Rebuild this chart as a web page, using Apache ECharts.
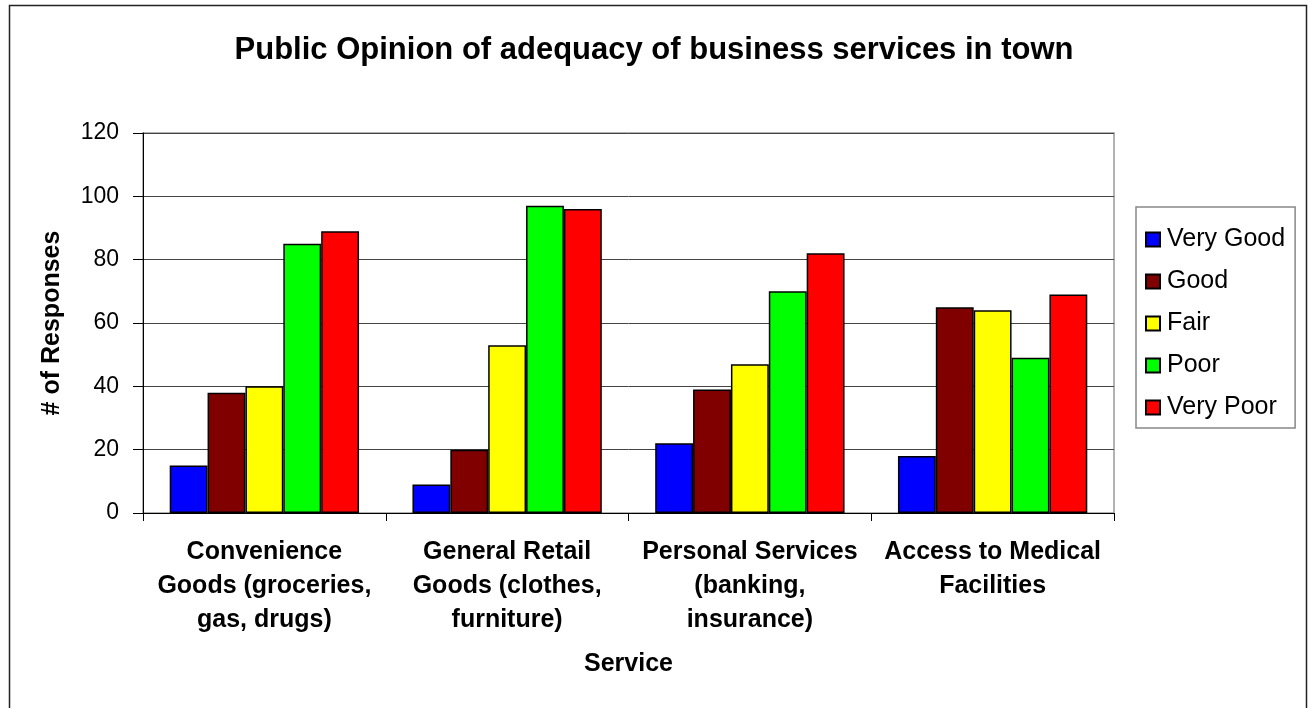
<!DOCTYPE html>
<html>
<head>
<meta charset="utf-8">
<title>Public Opinion of adequacy of business services in town</title>
<script src="https://cdn.jsdelivr.net/npm/echarts@6/dist/echarts.min.js"></script>
<style>
  html, body { margin: 0; padding: 0; background: #fff; }
  #charts { width: 1308px; height: 708px; }
</style>
</head>
<body>
<div id="charts"></div>
<script>
const categories = [
  "Convenience\nGoods (groceries,\ngas, drugs)",
  "General Retail\nGoods (clothes,\nfurniture)",
  "Personal Services\n(banking,\ninsurance)",
  "Access to Medical\nFacilities"
];
const seriesNames = ["Very Good", "Good", "Fair", "Poor", "Very Poor"];
const veryGood = [15, 9, 22, 18];
const good = [38, 20, 39, 65];
const fair = [40, 53, 47, 64];
const poor = [85, 97, 70, 49];
const veryPoor = [89, 96, 82, 69];
const yTicks = [0, 20, 40, 60, 80, 100, 120];

const colors = ["#0000ff", "#800000", "#ffff00", "#00ff00", "#ff0000"];
const font = "'Liberation Sans', Arial, sans-serif";

const chart = echarts.init(document.getElementById("charts"));

const values = [veryGood, good, fair, poor, veryPoor];
const series = [];
for (let i = 0; i < seriesNames.length; i++) {
  series.push({
    name: seriesNames[i],
    type: "bar",
    data: values[i],
    barGap: "0%",
    barCategoryGap: "22%",
    itemStyle: {
      color: colors[i],
      borderColor: "#000",
      borderWidth: 1.5
    }
  });
}

const option = {
  animation: false,
  backgroundColor: "#fff",
  textStyle: { fontFamily: font },
  title: {
    text: "Public Opinion of adequacy of business services in town",
    left: "center",
    top: 30,
    textStyle: { fontFamily: font, fontSize: 31, fontWeight: "bold", color: "#000" }
  },
  graphic: [
    {
      type: "rect",
      left: 7,
      top: 3,
      shape: { width: 1297, height: 720 },
      style: { fill: null, stroke: "#222", lineWidth: 1.5 },
      silent: true
    }
  ],
  legend: {
    orient: "vertical",
    left: 1136,
    top: 207,
    padding: [20, 10, 8, 9],
    itemWidth: 14,
    itemHeight: 14,
    itemGap: 17,
    borderColor: "#888",
    borderWidth: 1.5,
    icon: "rect",
    textStyle: { fontFamily: font, fontSize: 25, color: "#000", padding: [0, 0, 0, 2] },
    data: seriesNames
  },
  grid: {
    left: 143,
    right: 194,
    top: 133,
    bottom: 195,
    show: true,
    borderColor: "#999",
    borderWidth: 1.5
  },
  xAxis: {
    type: "category",
    data: categories,
    name: "Service",
    nameLocation: "middle",
    nameGap: 139,
    nameTextStyle: { fontFamily: font, fontSize: 25, fontWeight: "bold", color: "#000" },
    axisLine: { lineStyle: { color: "#000", width: 1 } },
    axisTick: { show: true, length: 8, lineStyle: { color: "#000" } },
    axisLabel: {
      interval: 0,
      margin: 22,
      lineHeight: 34,
      fontFamily: font,
      fontSize: 25,
      fontWeight: "bold",
      color: "#000"
    }
  },
  yAxis: {
    type: "value",
    min: yTicks[0],
    max: yTicks[yTicks.length - 1],
    interval: yTicks[1] - yTicks[0],
    name: "# of Responses",
    nameLocation: "middle",
    nameGap: 78,
    nameTextStyle: { fontFamily: font, fontSize: 25, fontWeight: "bold", color: "#000" },
    axisLine: { show: true, lineStyle: { color: "#000", width: 1 } },
    axisTick: { show: true, length: 10, lineStyle: { color: "#000" } },
    axisLabel: { margin: 24, fontFamily: font, fontSize: 23, color: "#000" },
    splitLine: { lineStyle: { color: "#444", width: 1 } }
  },
  series: series
};

chart.setOption(option);
window.onresize = function() {
  chart.resize();
};
</script>
</body>
</html>
